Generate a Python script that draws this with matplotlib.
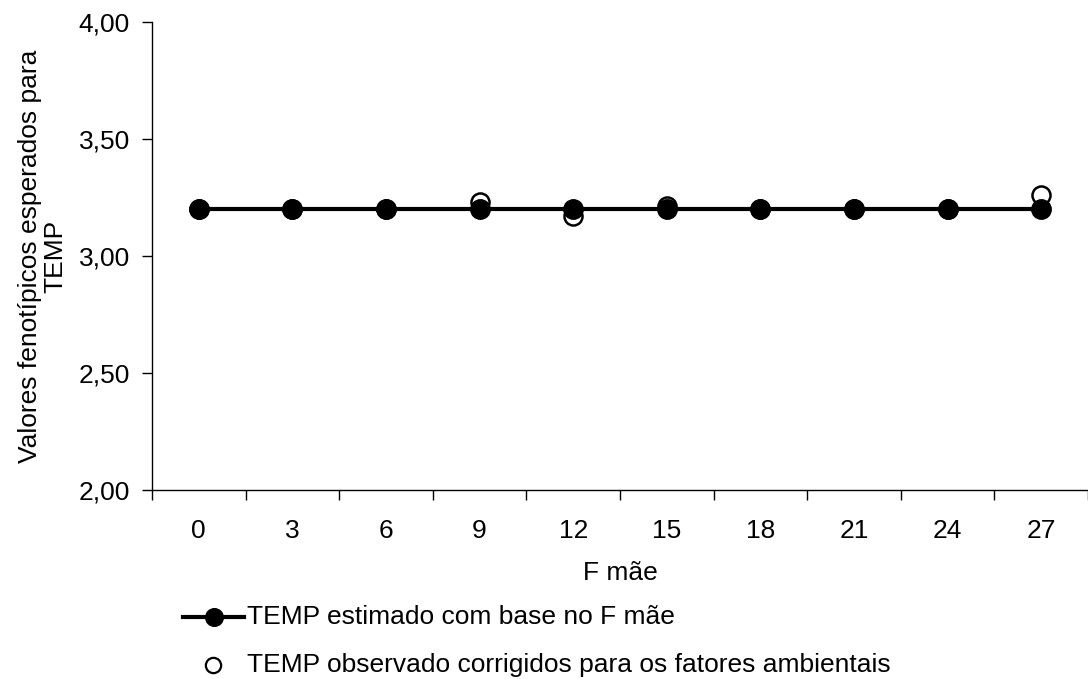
import matplotlib
matplotlib.use("Agg")
import matplotlib.pyplot as plt
from matplotlib.lines import Line2D
import numpy as np

plt.rcParams['font.family'] = ['Liberation Sans', 'DejaVu Sans']

categories = ["0", "3", "6", "9", "12", "15", "18", "21", "24", "27"]
estimado = [3.20, 3.20, 3.20, 3.20, 3.20, 3.20, 3.20, 3.20, 3.20, 3.20]
observado = [3.20, 3.20, 3.20, 3.23, 3.17, 3.215, 3.20, 3.20, 3.20, 3.26]
y_ticks = [2.00, 2.50, 3.00, 3.50, 4.00]

FS = 19
W, H = 1088, 679
fig = plt.figure(figsize=(W / 100, H / 100), dpi=100)
ax = fig.add_axes([152 / W, 1 - 490 / H, (W - 152) / W, (490 - 22) / H])

x = np.arange(len(categories))
ax.plot(x, observado, linestyle='none', marker='o', markersize=13,
        markerfacecolor='white', markeredgecolor='black', markeredgewidth=1.8, zorder=2)
ax.plot(x, estimado, color='black', linewidth=3, marker='o', markersize=14,
        markerfacecolor='black', markeredgecolor='black', zorder=3)

ax.set_xlim(-0.5, 9.5 - 2 / 93.8)
ax.set_ylim(2.0, 4.0)
ax.set_yticks(y_ticks)
ax.set_yticklabels([f"{v:.2f}".replace('.', ',') for v in y_ticks])
ax.set_xticks(x)
ax.set_xticklabels(categories)
ax.set_xticks(np.arange(-0.5, 10, 1.0), minor=True)
ax.tick_params(axis='x', which='major', length=0, pad=21, labelsize=FS)
ax.tick_params(axis='x', which='minor', length=7, width=1, direction='out')
ax.tick_params(axis='y', length=7, width=1, direction='out', labelsize=FS, pad=9)

for s in ('top', 'right'):
    ax.spines[s].set_visible(False)
for s in ('left', 'bottom'):
    ax.spines[s].set_linewidth(1)

ax.set_xlabel("F mãe", fontsize=FS, labelpad=13)
ax.set_ylabel("Valores fenotípicos esperados para\nTEMP", fontsize=FS, labelpad=8,
              linespacing=1.05)

# legend below the plot
y1 = 1 - 617 / H
y2 = 1 - 665 / H
fig.add_artist(Line2D([183 / W, 244 / W], [y1, y1], transform=fig.transFigure,
                      color='black', linewidth=3))
fig.add_artist(Line2D([214 / W], [y1], transform=fig.transFigure, marker='o',
                      markersize=12.7, color='black', linestyle='none'))
fig.add_artist(Line2D([213 / W], [y2], transform=fig.transFigure, marker='o',
                      markersize=11, markerfacecolor='white', markeredgecolor='black',
                      markeredgewidth=1.6, linestyle='none'))
fig.text(247 / W, y1, "TEMP estimado com base no F mãe", fontsize=FS, va='center', ha='left')
fig.text(247 / W, y2, "TEMP observado corrigidos para os fatores ambientais",
         fontsize=FS, va='center', ha='left')

fig.savefig("out.png", dpi=100)
